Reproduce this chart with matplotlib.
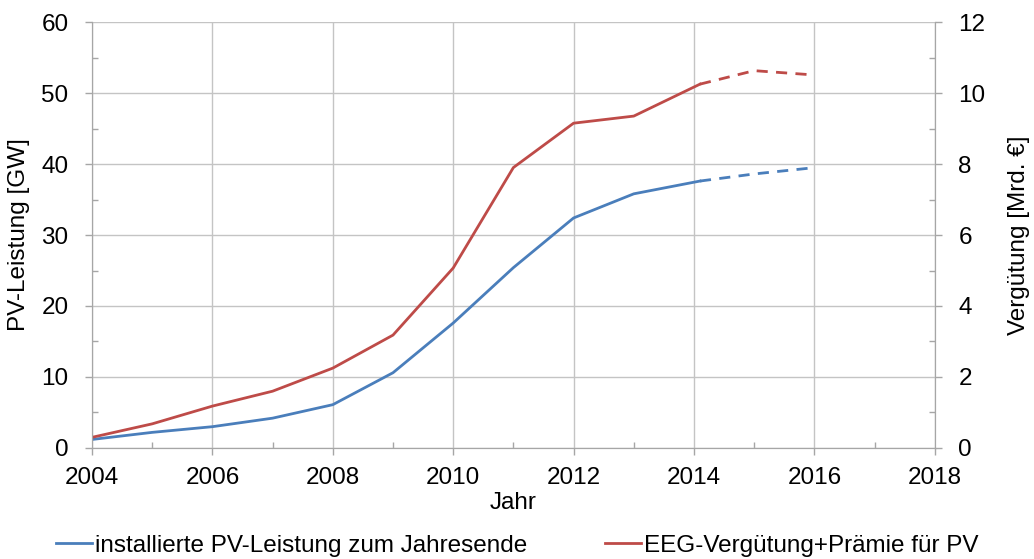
import matplotlib
matplotlib.use("Agg")
import matplotlib.pyplot as plt
from matplotlib.ticker import MultipleLocator
from matplotlib.lines import Line2D

plt.rcParams['font.family'] = ['Liberation Sans', 'DejaVu Sans']

# Data
years = [2004, 2005, 2006, 2007, 2008, 2009, 2010, 2011, 2012, 2013, 2014.1]
pv_gw = [1.2, 2.2, 3.0, 4.2, 6.1, 10.6, 17.6, 25.4, 32.4, 35.8, 37.6]
eeg_mrd = [0.3, 0.68, 1.18, 1.6, 2.25, 3.18, 5.07, 7.9, 9.15, 9.35, 10.25]

years_fc = [2014.1, 2015.0, 2015.9]
pv_fc = [37.6, 38.6, 39.4]
eeg_fc = [10.25, 10.63, 10.52]

x_ticks = [2004, 2006, 2008, 2010, 2012, 2014, 2016, 2018]
blue = '#4a7ebb'
red = '#be4b48'
grid_c = '#c4c4c4'
spine_c = '#a6a6a6'
fs = 17.5

fig = plt.figure(figsize=(10.34, 5.59), dpi=100)
ax = fig.add_axes([0.089, 0.1986, 0.815, 0.762])
ax2 = ax.twinx()

ax.plot(years, pv_gw, color=blue, lw=2.0)
ax.plot(years_fc, pv_fc, color=blue, lw=2.0, ls=(0, (4, 3)))
ax2.plot(years, eeg_mrd, color=red, lw=2.0)
ax2.plot(years_fc, eeg_fc, color=red, lw=2.0, ls=(0, (4, 3)))

ax.set_xlim(2004, 2018)
ax.set_ylim(0, 60)
ax2.set_ylim(0, 12)
ax.set_xticks(x_ticks)
ax.set_xticklabels([str(t) for t in x_ticks])
ax.xaxis.set_minor_locator(MultipleLocator(1))
ax.yaxis.set_major_locator(MultipleLocator(10))
ax.yaxis.set_minor_locator(MultipleLocator(5))
ax2.yaxis.set_major_locator(MultipleLocator(2))
ax2.yaxis.set_minor_locator(MultipleLocator(1))

ax.grid(True, which='major', color=grid_c, lw=1.0)
ax.set_axisbelow(True)

for a in (ax, ax2):
    for s in a.spines.values():
        s.set_color(spine_c)
    a.spines['top'].set_visible(False)
    a.tick_params(which='major', direction='out', length=5, color=spine_c, labelsize=fs, width=1)
    a.tick_params(which='minor', direction='in', length=4, color=spine_c, width=1)
ax.tick_params(axis='x', which='major', pad=9)
ax.tick_params(axis='y', which='major', pad=12)
ax2.tick_params(axis='y', which='major', pad=12)

ax.set_ylabel('PV-Leistung [GW]', fontsize=fs, labelpad=8)
ax2.set_ylabel('Vergütung [Mrd. €]', fontsize=fs, labelpad=16)
ax.set_xlabel('Jahr', fontsize=fs, labelpad=2)

handles = [Line2D([], [], color=blue, lw=2.0), Line2D([], [], color=red, lw=2.0)]
labels = ['installierte PV-Leistung zum Jahresende', 'EEG-Vergütung+Prämie für PV']
fig.legend(handles, labels, loc='lower center', bbox_to_anchor=(0.5, -0.035), ncol=2,
           frameon=False, fontsize=fs, handlelength=1.5, handletextpad=0.1,
           columnspacing=3.2)

fig.savefig('out.png', dpi=100)
